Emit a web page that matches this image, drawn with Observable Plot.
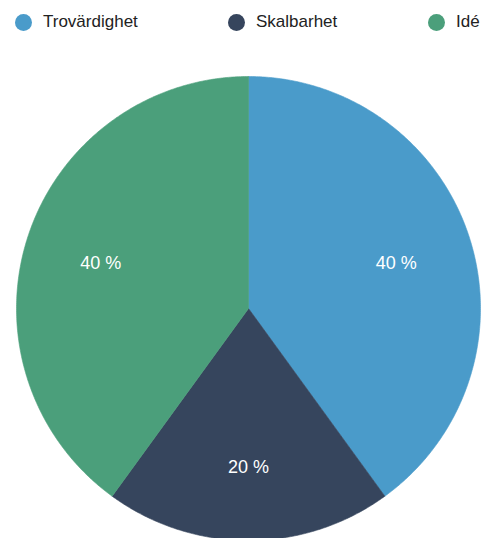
<!DOCTYPE html>
<html>
<head>
<meta charset="utf-8">
<script src="https://cdn.jsdelivr.net/npm/d3@7"></script>
<script src="https://cdn.jsdelivr.net/npm/@observablehq/plot@0.6"></script>
<style>
  html, body { margin: 0; padding: 0; background: #fff; overflow: hidden; }
  #legend { position: relative; width: 490px; height: 40px; font-family: "Liberation Sans", Arial, sans-serif; font-size: 17px; color: #222; }
  .item { position: absolute; top: 12px; display: flex; align-items: center; height: 20px; }
  .dot { width: 17px; height: 17px; border-radius: 50%; margin-right: 11px; }
  .item span { line-height: 20px; }
</style>
</head>
<body>
<div id="legend"></div>
<div id="chart"></div>
<script>
const categories = ["Trovärdighet", "Skalbarhet", "Idé"];
const values = [40, 20, 40];
const labels = ["40 %", "20 %", "40 %"];
const colors = ["#4a9bca", "#36455d", "#4b9f7b"];
const legendX = [15, 228, 428];

// legend
const legend = document.getElementById("legend");
categories.forEach((c, i) => {
  const it = document.createElement("div");
  it.className = "item";
  it.style.left = legendX[i] + "px";
  it.innerHTML = `<div class="dot" style="background:${colors[i]}"></div><span>${c}</span>`;
  legend.appendChild(it);
});

// pie geometry (unit circle, angle clockwise from 12 o'clock)
const arcs = d3.pie().sort(null)(values);
const poly = [];
const lab = [];
arcs.forEach((a, i) => {
  const cat = categories[i];
  poly.push({cat, x: 0, y: 0});
  const n = Math.max(2, Math.ceil((a.endAngle - a.startAngle) / (Math.PI / 360)));
  for (let k = 0; k <= n; k++) {
    const t = a.startAngle + (a.endAngle - a.startAngle) * k / n;
    poly.push({cat, x: Math.sin(t), y: Math.cos(t)});
  }
  poly.push({cat, x: 0, y: 0});
  const m = (a.startAngle + a.endAngle) / 2;
  lab.push({cat, text: labels[i], x: 0.67 * Math.sin(m), y: 0.67 * Math.cos(m)});
});

const chart = Plot.plot({
  width: 490,
  height: 498,
  margin: 0,
  x: {domain: [-1, 1], range: [16, 480], axis: null},
  y: {domain: [1, -1], range: [36, 500], axis: null},
  color: {domain: categories, range: colors},
  marks: [
    Plot.line(poly, {x: "x", y: "y", z: "cat", fill: "cat", stroke: "cat", strokeWidth: 0.6, curve: "linear"}),
    Plot.text(lab, {x: "x", y: "y", text: "text", dy: 3, fill: "white", fontSize: 18, fontFamily: "Liberation Sans, Arial, sans-serif"})
  ]
});
chart.style.display = "block";
document.getElementById("chart").appendChild(chart);
</script>
</body>
</html>
